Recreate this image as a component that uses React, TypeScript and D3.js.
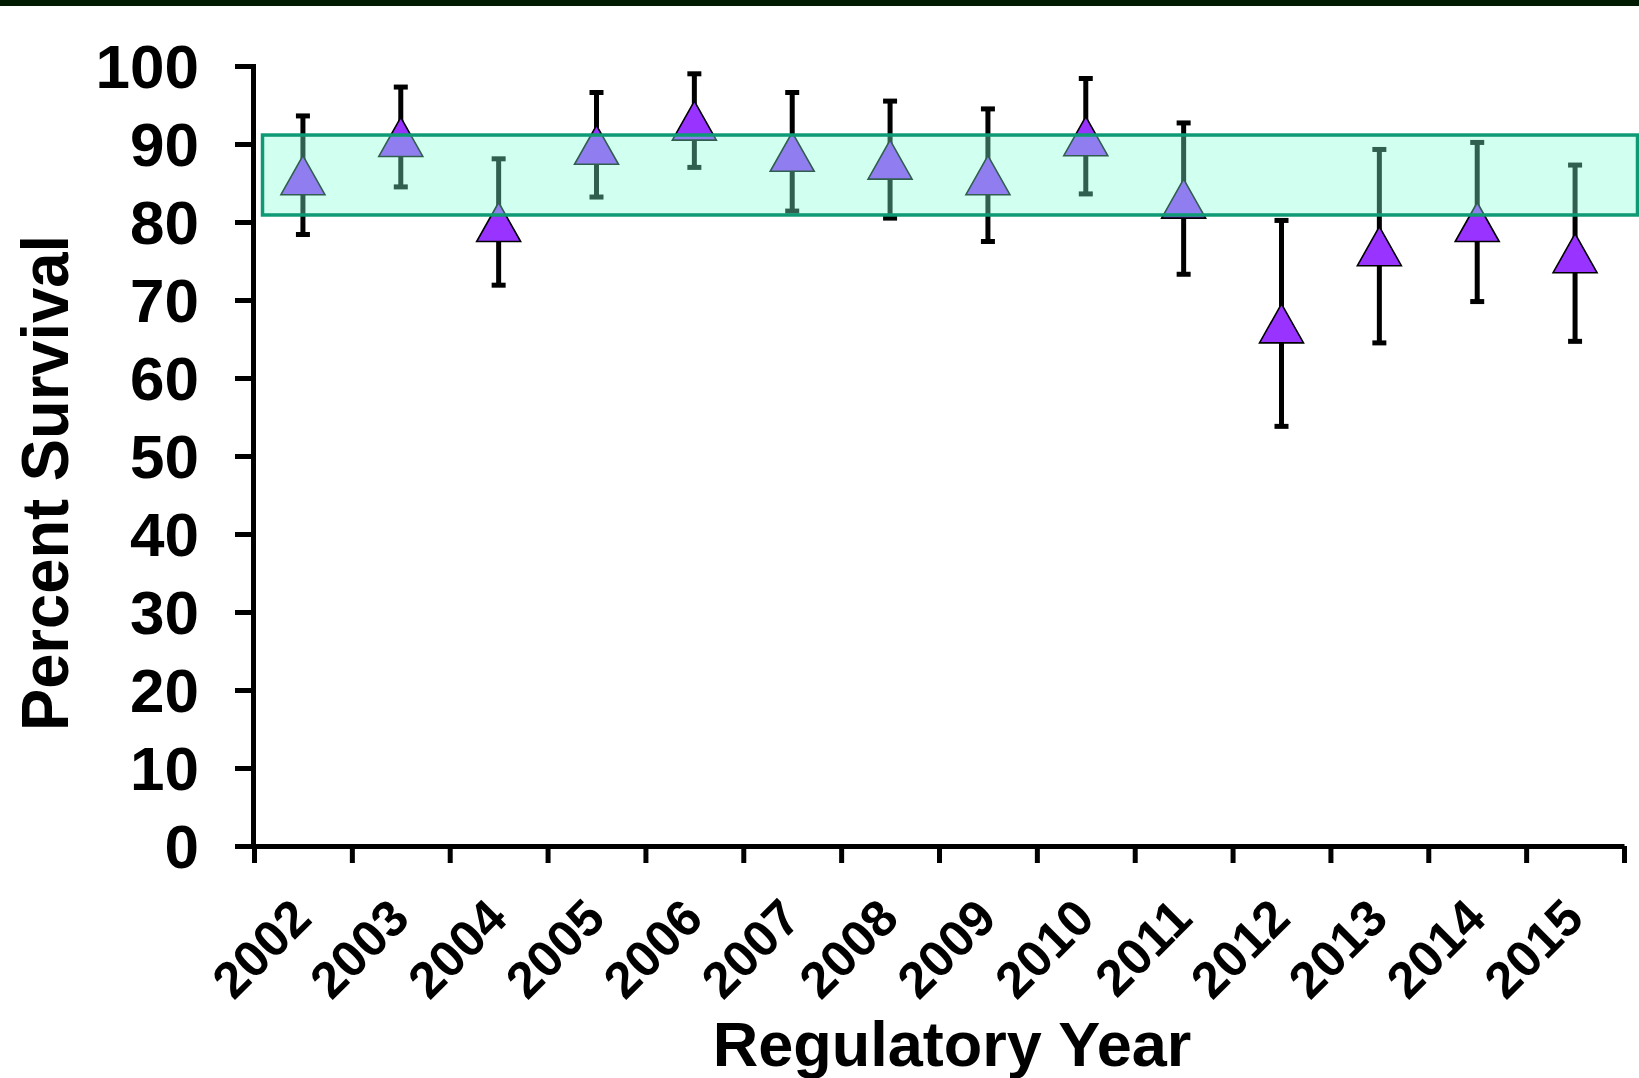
import * as d3 from "d3";
import React, { useEffect, useRef } from "react";

const years = ["2002", "2003", "2004", "2005", "2006", "2007", "2008", "2009", "2010", "2011", "2012", "2013", "2014", "2015"];
const survival = [86.0, 90.9, 80.0, 89.9, 93.0, 89.0, 88.0, 86.0, 91.0, 83.0, 67.0, 76.9, 80.0, 76.0];
const errors = [7.6, 6.4, 8.1, 6.7, 6.0, 7.6, 7.5, 8.5, 7.4, 9.7, 13.2, 12.4, 10.2, 11.3];
const targetRange = [80.9, 91.15];
const yTicks = [0, 10, 20, 30, 40, 50, 60, 70, 80, 90, 100];

const W = 1639;
const H = 1078;
const FONT = "Arial, 'Liberation Sans', sans-serif";

export default function App() {
    const yAxisRef = useRef(null);
    const xAxisRef = useRef(null);

    const x = d3.scaleBand().domain(years).range([254, 1624]).padding(0);
    const xEdge = d3.scaleLinear().domain([0, years.length]).range([254, 1624]);
    const y = d3.scaleLinear().domain([0, 100]).range([846, 66]);

    useEffect(() => {
        // y axis
        const yAxis = d3.axisLeft(y).tickValues(yTicks).tickSize(18).tickSizeOuter(0).tickFormat("");
        const gy = d3.select(yAxisRef.current).attr("transform", "translate(253,0)").call(yAxis);
        gy.select(".domain").attr("stroke", "#000").attr("stroke-width", 5).attr("stroke-linecap", "square");
        gy.selectAll(".tick line").attr("stroke", "#000").attr("stroke-width", 5);

        // x axis, ticks sit on the category edges
        const xAxis = d3.axisBottom(xEdge).tickValues(d3.range(years.length + 1)).tickSize(17).tickSizeOuter(0).tickFormat("");
        const gx = d3.select(xAxisRef.current).attr("transform", "translate(0,846)").call(xAxis);
        gx.select(".domain").attr("stroke", "#000").attr("stroke-width", 5);
        gx.selectAll(".tick line").attr("stroke", "#000").attr("stroke-width", 5);
    }, []);

    const half = 22;
    const tri = (cx, cy) => `M${cx},${cy - 19.5}L${cx + half},${cy + 19.5}L${cx - half},${cy + 19.5}Z`;

    return (
        <svg width={W} height={H} style={{ position: "absolute", left: 0, top: 0, display: "block", background: "#fff" }}>
            <rect x={0} y={0} width={W} height={6} fill="#011b03" />

            {/* error bars */}
            {years.map((yr, i) => {
                const cx = x(yr) + x.bandwidth() / 2;
                const top = y(survival[i] + errors[i]);
                const bot = y(survival[i] - errors[i]);
                return (
                    <g key={"e" + yr} stroke="#000" strokeWidth={5}>
                        <line x1={cx} x2={cx} y1={top} y2={bot} />
                        <line x1={cx - 7} x2={cx + 7} y1={top} y2={top} />
                        <line x1={cx - 7} x2={cx + 7} y1={bot} y2={bot} />
                    </g>
                );
            })}

            {/* markers */}
            {years.map((yr, i) => {
                const cx = x(yr) + x.bandwidth() / 2;
                return <path key={"m" + yr} d={tri(cx, y(survival[i]))} fill="#9933ff" stroke="#000" strokeWidth={1.6} />;
            })}

            {/* target band drawn over the points */}
            <rect
                x={262.5}
                y={y(targetRange[1])}
                width={1637.5 - 262.5}
                height={y(targetRange[0]) - y(targetRange[1])}
                fill="rgb(129,255,215)"
                fillOpacity={0.37}
                stroke="#0e9a74"
                strokeWidth={3.5}
            />

            <g ref={yAxisRef} />
            <g ref={xAxisRef} />

            {/* y tick labels */}
            {yTicks.map((t) => (
                <text key={"yt" + t} x={199} y={y(t)} dy="0.36em" textAnchor="end" fontFamily={FONT} fontWeight="bold" fontSize={62}>
                    {t}
                </text>
            ))}

            {/* x tick labels */}
            {years.map((yr) => {
                const cx = x(yr) + x.bandwidth() / 2;
                return (
                    <text key={"xt" + yr} transform={`translate(${cx + 11},921) rotate(-45)`} textAnchor="end" fontFamily={FONT} fontWeight="bold" fontSize={51}>
                        {yr}
                    </text>
                );
            })}

            <text transform="translate(68,483) rotate(-90) scale(0.945,1)" textAnchor="middle" fontFamily={FONT} fontWeight="bold" fontSize={67}>
                Percent Survival
            </text>
            <text x={952} y={1066} textAnchor="middle" fontFamily={FONT} fontWeight="bold" fontSize={63}>
                Regulatory Year
            </text>
        </svg>
    );
}
